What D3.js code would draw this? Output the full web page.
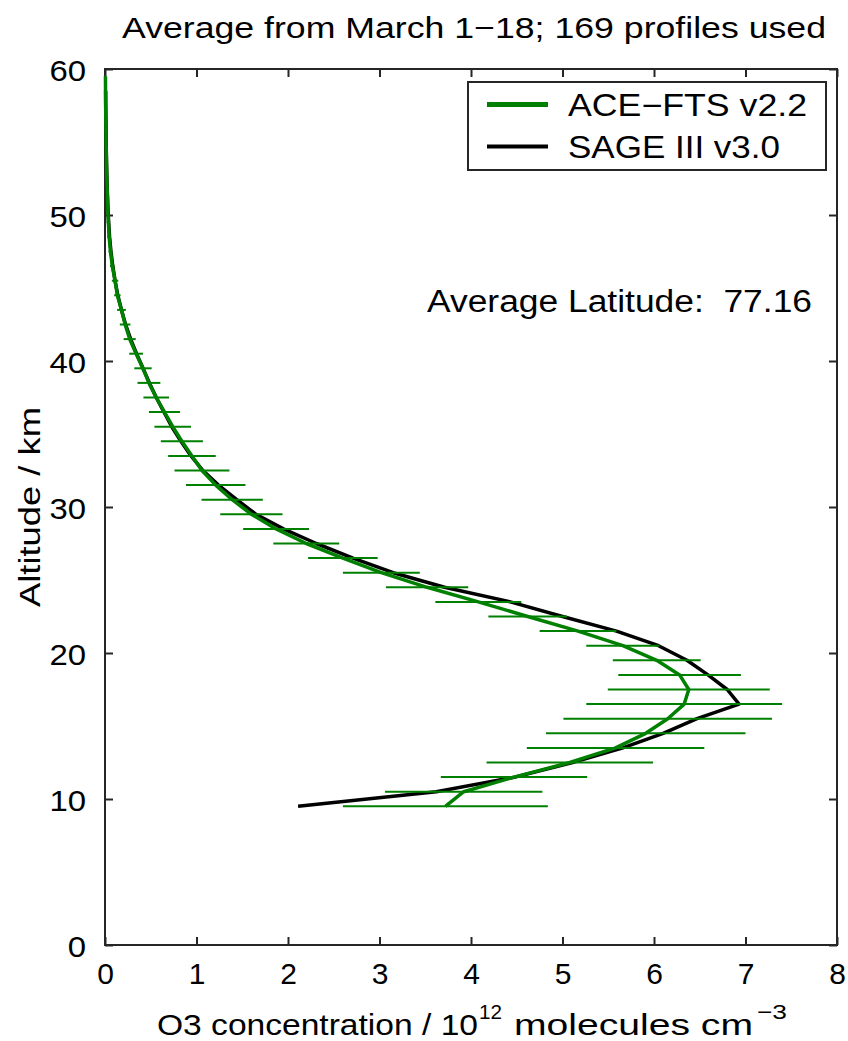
<!DOCTYPE html>
<html>
<head>
<meta charset="utf-8">
<script src="https://cdn.jsdelivr.net/npm/d3@7"></script>
<style>
  body { margin: 0; background: #fff; }
  text { font-family: Arial, "Liberation Sans", Helvetica, sans-serif; fill: #000; }
</style>
</head>
<body>
<script>
const width = 848;
const height = 1041;

// ACE-FTS v2.2 profile (altitude km, O3 1e12 molecules/cm3, error)
const aceAlt = [9.5, 10.5, 11.5, 12.5, 13.5, 14.5, 15.5, 16.5, 17.5, 18.5, 19.5, 20.5, 21.5, 22.5, 23.5, 24.5, 25.5, 26.5, 27.5, 28.5, 29.5, 30.5, 31.5, 32.5, 33.5, 34.5, 35.5, 36.5, 37.5, 38.5, 39.5, 40.5, 41.5, 42.5, 43.5, 44.5, 45.5, 46.5, 47.5, 48.5, 49.5, 50.5, 51.5, 52.5, 53.5, 54.5, 55.5, 56.5, 57.5, 58.5, 59.5];
const aceO3 = [3.72, 3.92, 4.47, 5.08, 5.58, 5.91, 6.15, 6.33, 6.38, 6.28, 6.03, 5.66, 5.17, 4.62, 4.08, 3.52, 3.02, 2.6, 2.2, 1.87, 1.6, 1.39, 1.21, 1.06, 0.95, 0.84, 0.74, 0.65, 0.56, 0.48, 0.415, 0.34, 0.27, 0.22, 0.18, 0.135, 0.11, 0.08, 0.06, 0.045, 0.037, 0.03, 0.025, 0.02, 0.016, 0.013, 0.011, 0.009, 0.007, 0.006, 0.005];
const aceErr = [1.12, 0.86, 0.8, 0.91, 0.97, 1.09, 1.14, 1.07, 0.885, 0.67, 0.48, 0.4, 0.42, 0.43, 0.47, 0.45, 0.42, 0.38, 0.36, 0.36, 0.34, 0.335, 0.325, 0.3, 0.26, 0.23, 0.2, 0.17, 0.14, 0.125, 0.095, 0.075, 0.066, 0.058, 0.048, 0.035, 0.035, 0.025, 0.022, 0.02, 0.018, 0.016, 0.015, 0.014, 0.013, 0.012, 0.011, 0.01, 0.01, 0.009, 0.008];

// SAGE III v3.0 profile
const sageAlt = [9.5, 10.5, 11.5, 12.5, 13.5, 14.5, 15.5, 16.5, 17.5, 18.5, 19.5, 20.5, 21.5, 22.5, 23.5, 24.5, 25.5, 26.5, 27.5, 28.5, 29.5, 30.5, 31.5, 32.5, 33.5, 34.5, 35.5, 36.5, 37.5, 38.5, 39.5, 40.5, 41.5, 42.5, 43.5, 44.5, 45.5, 46.5, 47.5, 48.5, 49.5, 50.5, 51.5, 52.5, 53.5, 54.5, 55.5, 56.5, 57.5, 58.5];
const sageO3 = [2.11, 3.62, 4.48, 5.11, 5.66, 6.1, 6.47, 6.93, 6.8, 6.59, 6.36, 6.05, 5.59, 5.0, 4.43, 3.71, 3.15, 2.71, 2.31, 1.95, 1.65, 1.44, 1.24, 1.07, 0.94, 0.83, 0.73, 0.645, 0.56, 0.485, 0.415, 0.345, 0.28, 0.225, 0.18, 0.14, 0.11, 0.085, 0.065, 0.05, 0.04, 0.032, 0.026, 0.021, 0.017, 0.014, 0.012, 0.01, 0.008, 0.007];

const xTicks = [0, 1, 2, 3, 4, 5, 6, 7, 8];
const yTicks = [0, 10, 20, 30, 40, 50, 60];
const legendLabels = ["ACE\u2212FTS v2.2", "SAGE III v3.0"];
const colors = ["#008000", "#000000"];

const margin = { top: 69, right: 11, bottom: 96, left: 105 };

const x = d3.scaleLinear().domain([0, 8]).range([margin.left, width - margin.right]);
const y = d3.scaleLinear().domain([0, 60]).range([height - margin.bottom, margin.top]);

const svg = d3
  .select("body")
  .append("svg")
  .attr("width", width)
  .attr("height", height);

// inward ticks on all four sides
const tickLen = 8;
const axisColor = "#262626";

function styleAxis(g, showLabels) {
  g.select(".domain").remove();
  g.selectAll(".tick line").attr("stroke", axisColor).attr("stroke-width", 2);
  if (!showLabels) g.selectAll(".tick text").remove();
}

svg
  .append("g")
  .attr("transform", `translate(0,${y(0)})`)
  .call(d3.axisBottom(x).tickValues(xTicks).tickSizeInner(-tickLen).tickSizeOuter(0).tickPadding(18))
  .call((g) => styleAxis(g, true))
  .selectAll(".tick text")
  .attr("font-size", 30)
  .attr("dy", "0.71em");

svg
  .append("g")
  .attr("transform", `translate(0,${y(60)})`)
  .call(d3.axisTop(x).tickValues(xTicks).tickSizeInner(-tickLen).tickSizeOuter(0))
  .call((g) => styleAxis(g, false));

svg
  .append("g")
  .attr("transform", `translate(${x(0)},0)`)
  .call(d3.axisLeft(y).tickValues(yTicks).tickSizeInner(-tickLen).tickSizeOuter(0).tickPadding(19))
  .call((g) => styleAxis(g, true))
  .selectAll(".tick text")
  .attr("font-size", 30)
  .attr("dy", "0.37em")
  .attr("textLength", (d) => String(d).length * 18.3)
  .attr("lengthAdjust", "spacingAndGlyphs");

svg
  .append("g")
  .attr("transform", `translate(${x(8)},0)`)
  .call(d3.axisRight(y).tickValues(yTicks).tickSizeInner(-tickLen).tickSizeOuter(0))
  .call((g) => styleAxis(g, false));

svg
  .append("rect")
  .attr("x", x(0))
  .attr("y", y(60))
  .attr("width", x(8) - x(0))
  .attr("height", y(0) - y(60))
  .attr("fill", "none")
  .attr("stroke", axisColor)
  .attr("stroke-width", 2);

// data
const ace = aceAlt.map((a, i) => ({ alt: a, v: aceO3[i], e: aceErr[i] }));
const sage = sageAlt.map((a, i) => ({ alt: a, v: sageO3[i] }));

const line = d3
  .line()
  .x((d) => x(d.v))
  .y((d) => y(d.alt));

svg
  .append("path")
  .datum(sage)
  .attr("d", line)
  .attr("fill", "none")
  .attr("stroke", colors[1])
  .attr("stroke-width", 3.5)
  .attr("stroke-linejoin", "round");

svg
  .append("g")
  .selectAll("line")
  .data(ace)
  .join("line")
  .attr("x1", (d) => x(Math.max(0, d.v - d.e)))
  .attr("x2", (d) => x(d.v + d.e))
  .attr("y1", (d) => y(d.alt))
  .attr("y2", (d) => y(d.alt))
  .attr("stroke", colors[0])
  .attr("stroke-width", 2);

svg
  .append("path")
  .datum(ace)
  .attr("d", line)
  .attr("fill", "none")
  .attr("stroke", colors[0])
  .attr("stroke-width", 3.5)
  .attr("stroke-linejoin", "round");

// legend
const legend = svg.append("g");
legend
  .append("rect")
  .attr("x", 468)
  .attr("y", 82)
  .attr("width", 358)
  .attr("height", 88)
  .attr("fill", "#fff")
  .attr("stroke", axisColor)
  .attr("stroke-width", 2);

const legendWidths = [239, 212];
legendLabels.forEach((label, i) => {
  const ly = 104.5 + i * 42;
  legend
    .append("line")
    .attr("x1", 487)
    .attr("x2", 548)
    .attr("y1", ly)
    .attr("y2", ly)
    .attr("stroke", colors[i])
    .attr("stroke-width", i === 0 ? 5 : 4);
  legend
    .append("text")
    .attr("x", 568)
    .attr("y", ly + 11)
    .attr("font-size", 31)
    .attr("textLength", legendWidths[i])
    .attr("lengthAdjust", "spacingAndGlyphs")
    .text(label);
});

// annotation
svg
  .append("text")
  .attr("x", 427)
  .attr("y", 312)
  .attr("font-size", 31)
  .style("white-space", "pre")
  .attr("textLength", 385)
  .attr("lengthAdjust", "spacingAndGlyphs")
  .text("Average Latitude:  77.16");

// title
svg
  .append("text")
  .attr("x", 122)
  .attr("y", 38)
  .attr("font-size", 30)
  .attr("textLength", 704)
  .attr("lengthAdjust", "spacingAndGlyphs")
  .text("Average from March 1\u221218; 169 profiles used");

// x label, pieces placed separately for the superscripts
const xl = svg.append("g");
xl.append("text").attr("x", 157).attr("y", 1035).attr("font-size", 30)
  .attr("textLength", 321).attr("lengthAdjust", "spacingAndGlyphs")
  .text("O3 concentration / 10");
xl.append("text").attr("x", 479).attr("y", 1019).attr("font-size", 21)
  .attr("textLength", 23).attr("lengthAdjust", "spacingAndGlyphs")
  .text("12");
xl.append("text").attr("x", 514).attr("y", 1035).attr("font-size", 30)
  .attr("textLength", 239).attr("lengthAdjust", "spacingAndGlyphs")
  .text("molecules cm");
xl.append("text").attr("x", 757).attr("y", 1019).attr("font-size", 21)
  .attr("textLength", 30).attr("lengthAdjust", "spacingAndGlyphs")
  .text("\u22123");

// y label
svg
  .append("text")
  .attr("transform", `translate(40,${(y(0) + y(60)) / 2}) rotate(-90)`)
  .attr("text-anchor", "middle")
  .attr("font-size", 30)
  .attr("textLength", 200)
  .attr("lengthAdjust", "spacingAndGlyphs")
  .text("Altitude / km");
</script>
</body>
</html>
